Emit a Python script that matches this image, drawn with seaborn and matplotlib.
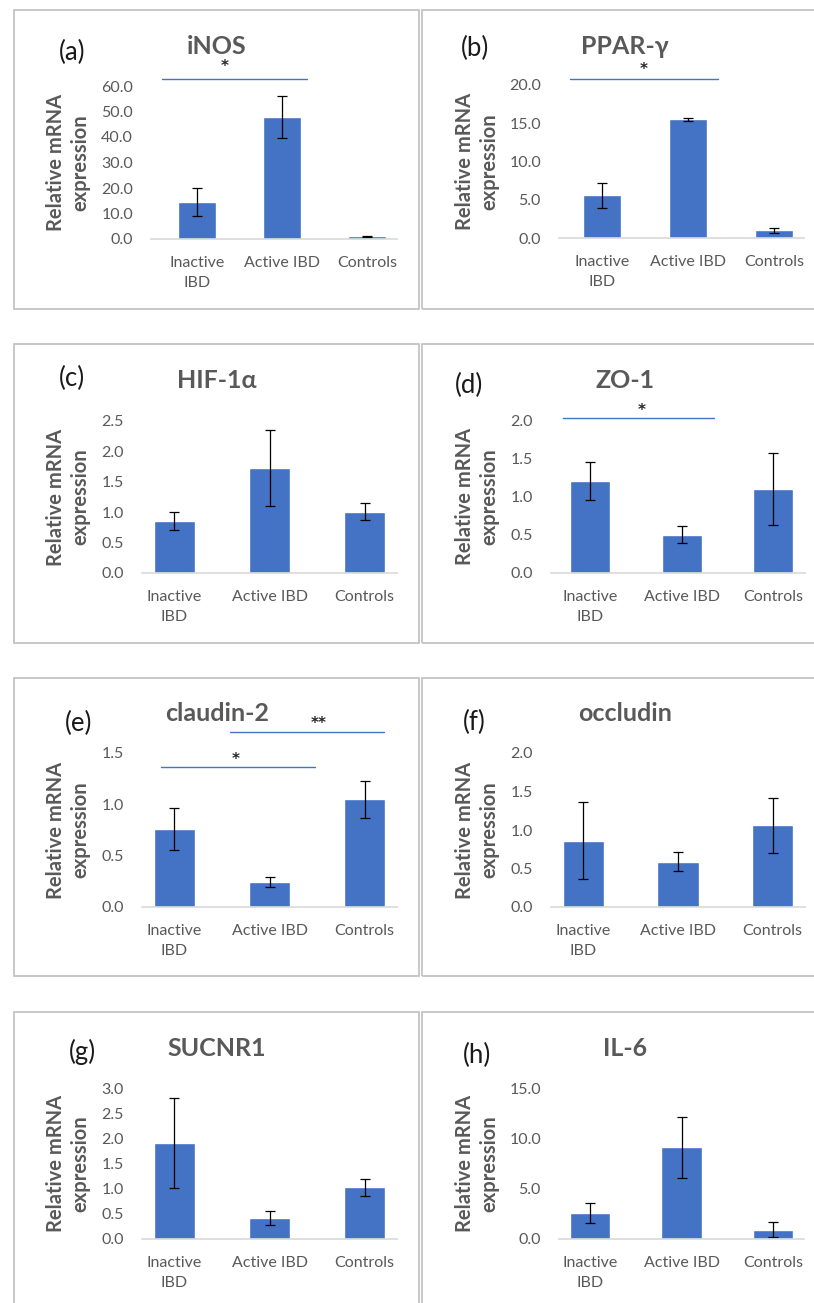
import matplotlib
matplotlib.use("Agg")
import matplotlib.pyplot as plt
import seaborn as sns
import pandas as pd
from matplotlib.patches import Rectangle

# ---- data ----
groups = ["Inactive\nIBD", "Active IBD", "Controls"]
genes = ["iNOS", "PPAR-γ", "HIF-1α", "ZO-1", "claudin-2", "occludin", "SUCNR1", "IL-6"]
letters = ["(a)", "(b)", "(c)", "(d)", "(e)", "(f)", "(g)", "(h)"]

inos_mean = [14.5, 47.8, 1.0]
inos_err = [5.5, 8.1, 0.2]
ppar_mean = [5.6, 15.5, 1.0]
ppar_err = [1.65, 0.25, 0.3]
hif_mean = [0.85, 1.73, 1.01]
hif_err = [0.15, 0.63, 0.135]
zo1_mean = [1.20, 0.50, 1.10]
zo1_err = [0.245, 0.11, 0.47]
cld2_mean = [0.76, 0.24, 1.05]
cld2_err = [0.20, 0.05, 0.18]
occ_mean = [0.86, 0.59, 1.06]
occ_err = [0.50, 0.125, 0.36]
suc_mean = [1.91, 0.42, 1.03]
suc_err = [0.90, 0.145, 0.17]
il6_mean = [2.55, 9.1, 0.9]
il6_err = [1.0, 3.0, 0.75]

means = [inos_mean, ppar_mean, hif_mean, zo1_mean, cld2_mean, occ_mean, suc_mean, il6_mean]
errs = [inos_err, ppar_err, hif_err, zo1_err, cld2_err, occ_err, suc_err, il6_err]

y_max = [60, 20, 2.5, 2.0, 1.5, 2.0, 3.0, 15]
y_step = [10, 5, 0.5, 0.5, 0.5, 0.5, 0.5, 5]

# significance bars: panel -> (x0, x1, y_line, x_star, y_star, text)
sig = {
    0: [(-0.41, 1.29, 62.7, 0.33, 67.5, "*")],
    1: [(-0.37, 1.35, 20.8, 0.48, 22.0, "*")],
    3: [(-0.30, 1.35, 2.03, 0.56, 2.12, "*")],
    4: [(-0.14, 1.48, 1.36, 0.64, 1.44, "*"),
        (0.58, 2.21, 1.70, 1.52, 1.79, "**")],
}

# ---- layout (pixels) ----
W, H = 814, 1303
ax_px = [(151, 246, 86, 239), (559, 245, 85, 238),
         (142, 255, 421, 573), (551, 254, 420, 573),
         (142, 255, 753, 907), (551, 254, 753, 907),
         (142, 255, 1088, 1239), (559, 245, 1088, 1239)]
frame_left = [14, 422]
frame_w = [405, 420]
frame_top = [10, 344, 678, 1012]
frame_h = [299, 299, 298, 330]
letter_off = [(58, 42), (53, 38), (58, 34), (47, 41),
              (65, 45), (52, 44), (68, 40), (55, 43)]
ylab_x = [68, 477]

BAR = "#4472C4"
GREY = "#595959"

sns.set_style("white")
plt.rcParams["font.family"] = ["Lato", "DejaVu Sans"]

fig = plt.figure(figsize=(W / 100, H / 100), dpi=100)
fig.patch.set_facecolor("white")

# panel frames
for r in range(4):
    for c in range(2):
        fig.patches.append(Rectangle(
            (frame_left[c] / W, 1 - (frame_top[r] + frame_h[r]) / H),
            frame_w[c] / W, frame_h[r] / H,
            transform=fig.transFigure, fill=False,
            edgecolor="#BFBFBF", linewidth=1.2))

for i in range(8):
    r, c = divmod(i, 2)
    L, Wd, top, zero = ax_px[i]
    ax = fig.add_axes([L / W, 1 - zero / H, Wd / W, (zero - top) / H])
    df = pd.DataFrame({"group": groups, "value": means[i]})
    sns.barplot(data=df, x="group", y="value", color=BAR, width=0.44,
                saturation=1, errorbar=None, ax=ax)
    ax.errorbar(ax.get_xticks(), means[i], yerr=errs[i], fmt="none",
                ecolor="black", elinewidth=0.9, capsize=3.5, capthick=0.9)

    ax.set_ylim(0, y_max[i])
    n = int(round(y_max[i] / y_step[i]))
    ticks = [k * y_step[i] for k in range(n + 1)]
    ax.set_yticks(ticks)
    ax.set_yticklabels([f"{t:.1f}" for t in ticks])
    ax.tick_params(axis="y", length=0, pad=13, labelsize=11.5, labelcolor=GREY)
    ax.tick_params(axis="x", length=0, pad=12, labelsize=11.5, labelcolor=GREY)
    for lab in ax.get_xticklabels():
        lab.set_linespacing(1.55)
    for s in ["top", "right", "left"]:
        ax.spines[s].set_visible(False)
    ax.spines["bottom"].set_color("#D9D9D9")
    ax.spines["bottom"].set_linewidth(1.2)

    ax.set_xlabel("")
    ax.set_ylabel("Relative mRNA\nexpression", fontsize=14.5, fontweight="bold",
                  color=GREY, va="center", linespacing=1.25)
    ax.yaxis.set_label_coords((ylab_x[c] - L) / Wd, 0.5)

    for (x0, x1, yl, xs, ys, txt) in sig.get(i, []):
        ax.plot([x0, x1], [yl, yl], color=BAR, lw=1.0, clip_on=False)
        ax.text(xs, ys, txt, ha="center", va="center", fontsize=11,
                fontweight="bold", family="DejaVu Sans",
                color="#262626", clip_on=False)

    px0 = frame_left[c]
    py0 = frame_top[r]
    fig.text((px0 + 203) / W, 1 - (py0 + 36) / H, genes[i], ha="center",
             va="center", fontsize=18, fontweight="bold", color=GREY)
    lx, ly = letter_off[i]
    fig.text((px0 + lx) / W, 1 - (py0 + ly) / H, letters[i], ha="center",
             va="center", fontsize=18.5, color="#1a1a1a")

fig.savefig("out.png", dpi=100, facecolor="white")
